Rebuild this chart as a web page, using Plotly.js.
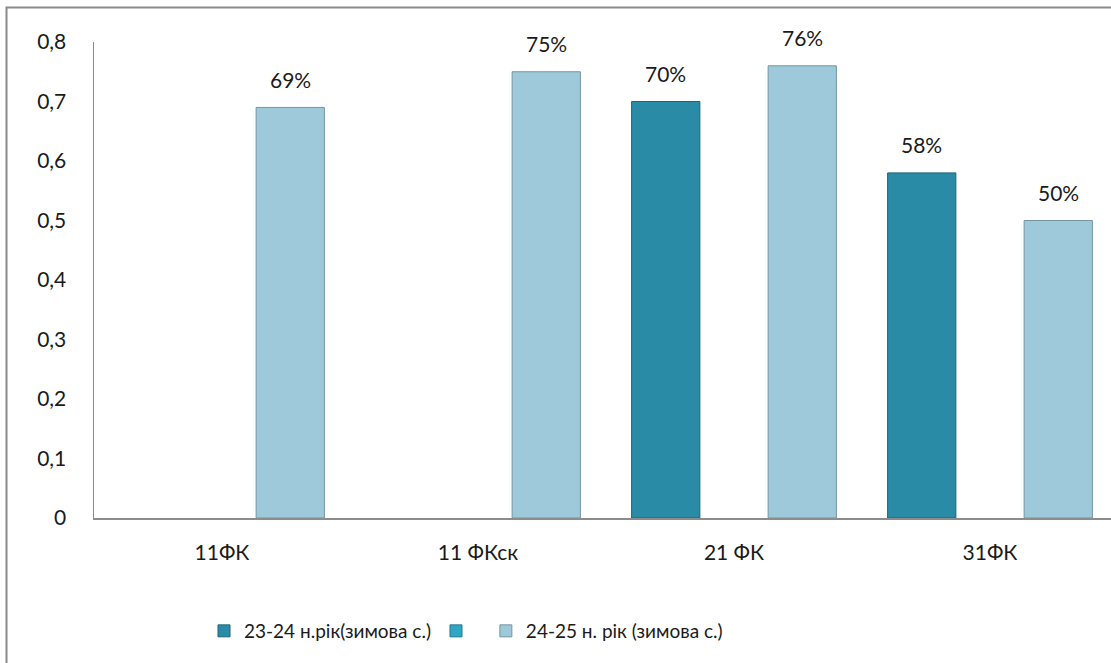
<!DOCTYPE html>
<html>
<head>
<meta charset="utf-8">
<script src="https://cdn.plot.ly/plotly-3.0.1.min.js"></script>
<style>html,body{margin:0;padding:0;background:#fff;}#chart{width:1111px;height:663px;}</style>
</head>
<body>
<div id="chart"></div>
<script>
const categories = ["11ФК", "11 ФКск", "21 ФК", "31ФК"];
const series1Name = "23-24 н.рік(зимова с.)";
const series1 = [null, null, 0.70, 0.58];
const series2Name = " ";
const series2 = [null, null, null, null];
const series3Name = "24-25 н. рік (зимова с.)";
const series3 = [0.69, 0.75, 0.76, 0.50];
const yTicks = [0, 0.1, 0.2, 0.3, 0.4, 0.5, 0.6, 0.7, 0.8];
const yTickText = ["0", "0,1", "0,2", "0,3", "0,4", "0,5", "0,6", "0,7", "0,8"];

const FONT = "Lato, 'Open Sans', sans-serif";
const labelFont = {family: FONT, size: 21, color: "#1a1a1a"};
const legendFont = {family: FONT, size: 19, color: "#1a1a1a"};

const BARGAP = 0.2;
const allSeries = [
  {name: series1Name, ys: series1, fill: "#2a8ba6", line: "#1d6579"},
  {name: series2Name, ys: series2, fill: "#30a6c4", line: "#1f7a91"},
  {name: series3Name, ys: series3, fill: "#9dc9da", line: "#7595a3"}
];

const data = allSeries.map(s => ({
  type: "bar",
  name: s.name,
  x: categories,
  y: s.ys,
  marker: {color: s.fill, line: {color: s.line, width: 1}},
  hoverinfo: "skip"
}));

const L = 94, T = 42, B = 145, W = 1111, H = 663;
const plotW = W - L, plotH = H - T - B;
const catPx = 256;
const xRange = [-0.5, -0.5 + plotW / catPx];
function px2x(px) { return (px - L) / plotW; }
function py2y(py) { return (H - B - py) / plotH; }

// value labels, placed over each bar via the category axis plus group slot offset
const slotPx = (1 - BARGAP) / allSeries.length * catPx;
const annotations = [];
allSeries.forEach((s, si) => {
  s.ys.forEach((v, ci) => {
    if (v == null) return;
    annotations.push({
      x: categories[ci], y: v, xref: "x", yref: "y",
      text: Math.round(v * 100) + "%",
      showarrow: false,
      xshift: (si - (allSeries.length - 1) / 2) * slotPx,
      yanchor: "middle", yshift: 28,
      font: labelFont
    });
  });
});

const layout = {
  width: W, height: H,
  margin: {l: L, r: 0, t: T, b: B, pad: 0},
  paper_bgcolor: "#ffffff",
  plot_bgcolor: "#ffffff",
  barmode: "group",
  bargap: BARGAP,
  bargroupgap: 0,
  font: labelFont,
  showlegend: true,
  xaxis: {
    type: "category",
    range: xRange,
    showline: true, linecolor: "#8c8c8c", linewidth: 2,
    showgrid: false, zeroline: false,
    ticks: "", ticklabelstandoff: 15,
    tickfont: labelFont,
    fixedrange: true
  },
  yaxis: {
    range: [0, 0.8],
    tickvals: yTicks, ticktext: yTickText,
    showline: true, linecolor: "#8c8c8c", linewidth: 1.5,
    showgrid: false, zeroline: false,
    ticks: "", ticklabelstandoff: 22,
    tickfont: labelFont,
    fixedrange: true
  },
  legend: {
    orientation: "h",
    x: px2x(466), xanchor: "center",
    y: py2y(631), yanchor: "middle",
    font: legendFont,
    itemwidth: 30,
    traceorder: "normal",
    bgcolor: "rgba(0,0,0,0)"
  },
  annotations: annotations,
  shapes: [{
    type: "rect", xref: "paper", yref: "paper",
    x0: px2x(6.5), x1: px2x(1130), y0: py2y(680), y1: py2y(7.5),
    line: {color: "#8a8a8a", width: 2}, fillcolor: "rgba(0,0,0,0)", layer: "below"
  }]
};

Plotly.newPlot("chart", data, layout, {displayModeBar: false, staticPlot: true});
</script>
</body>
</html>
